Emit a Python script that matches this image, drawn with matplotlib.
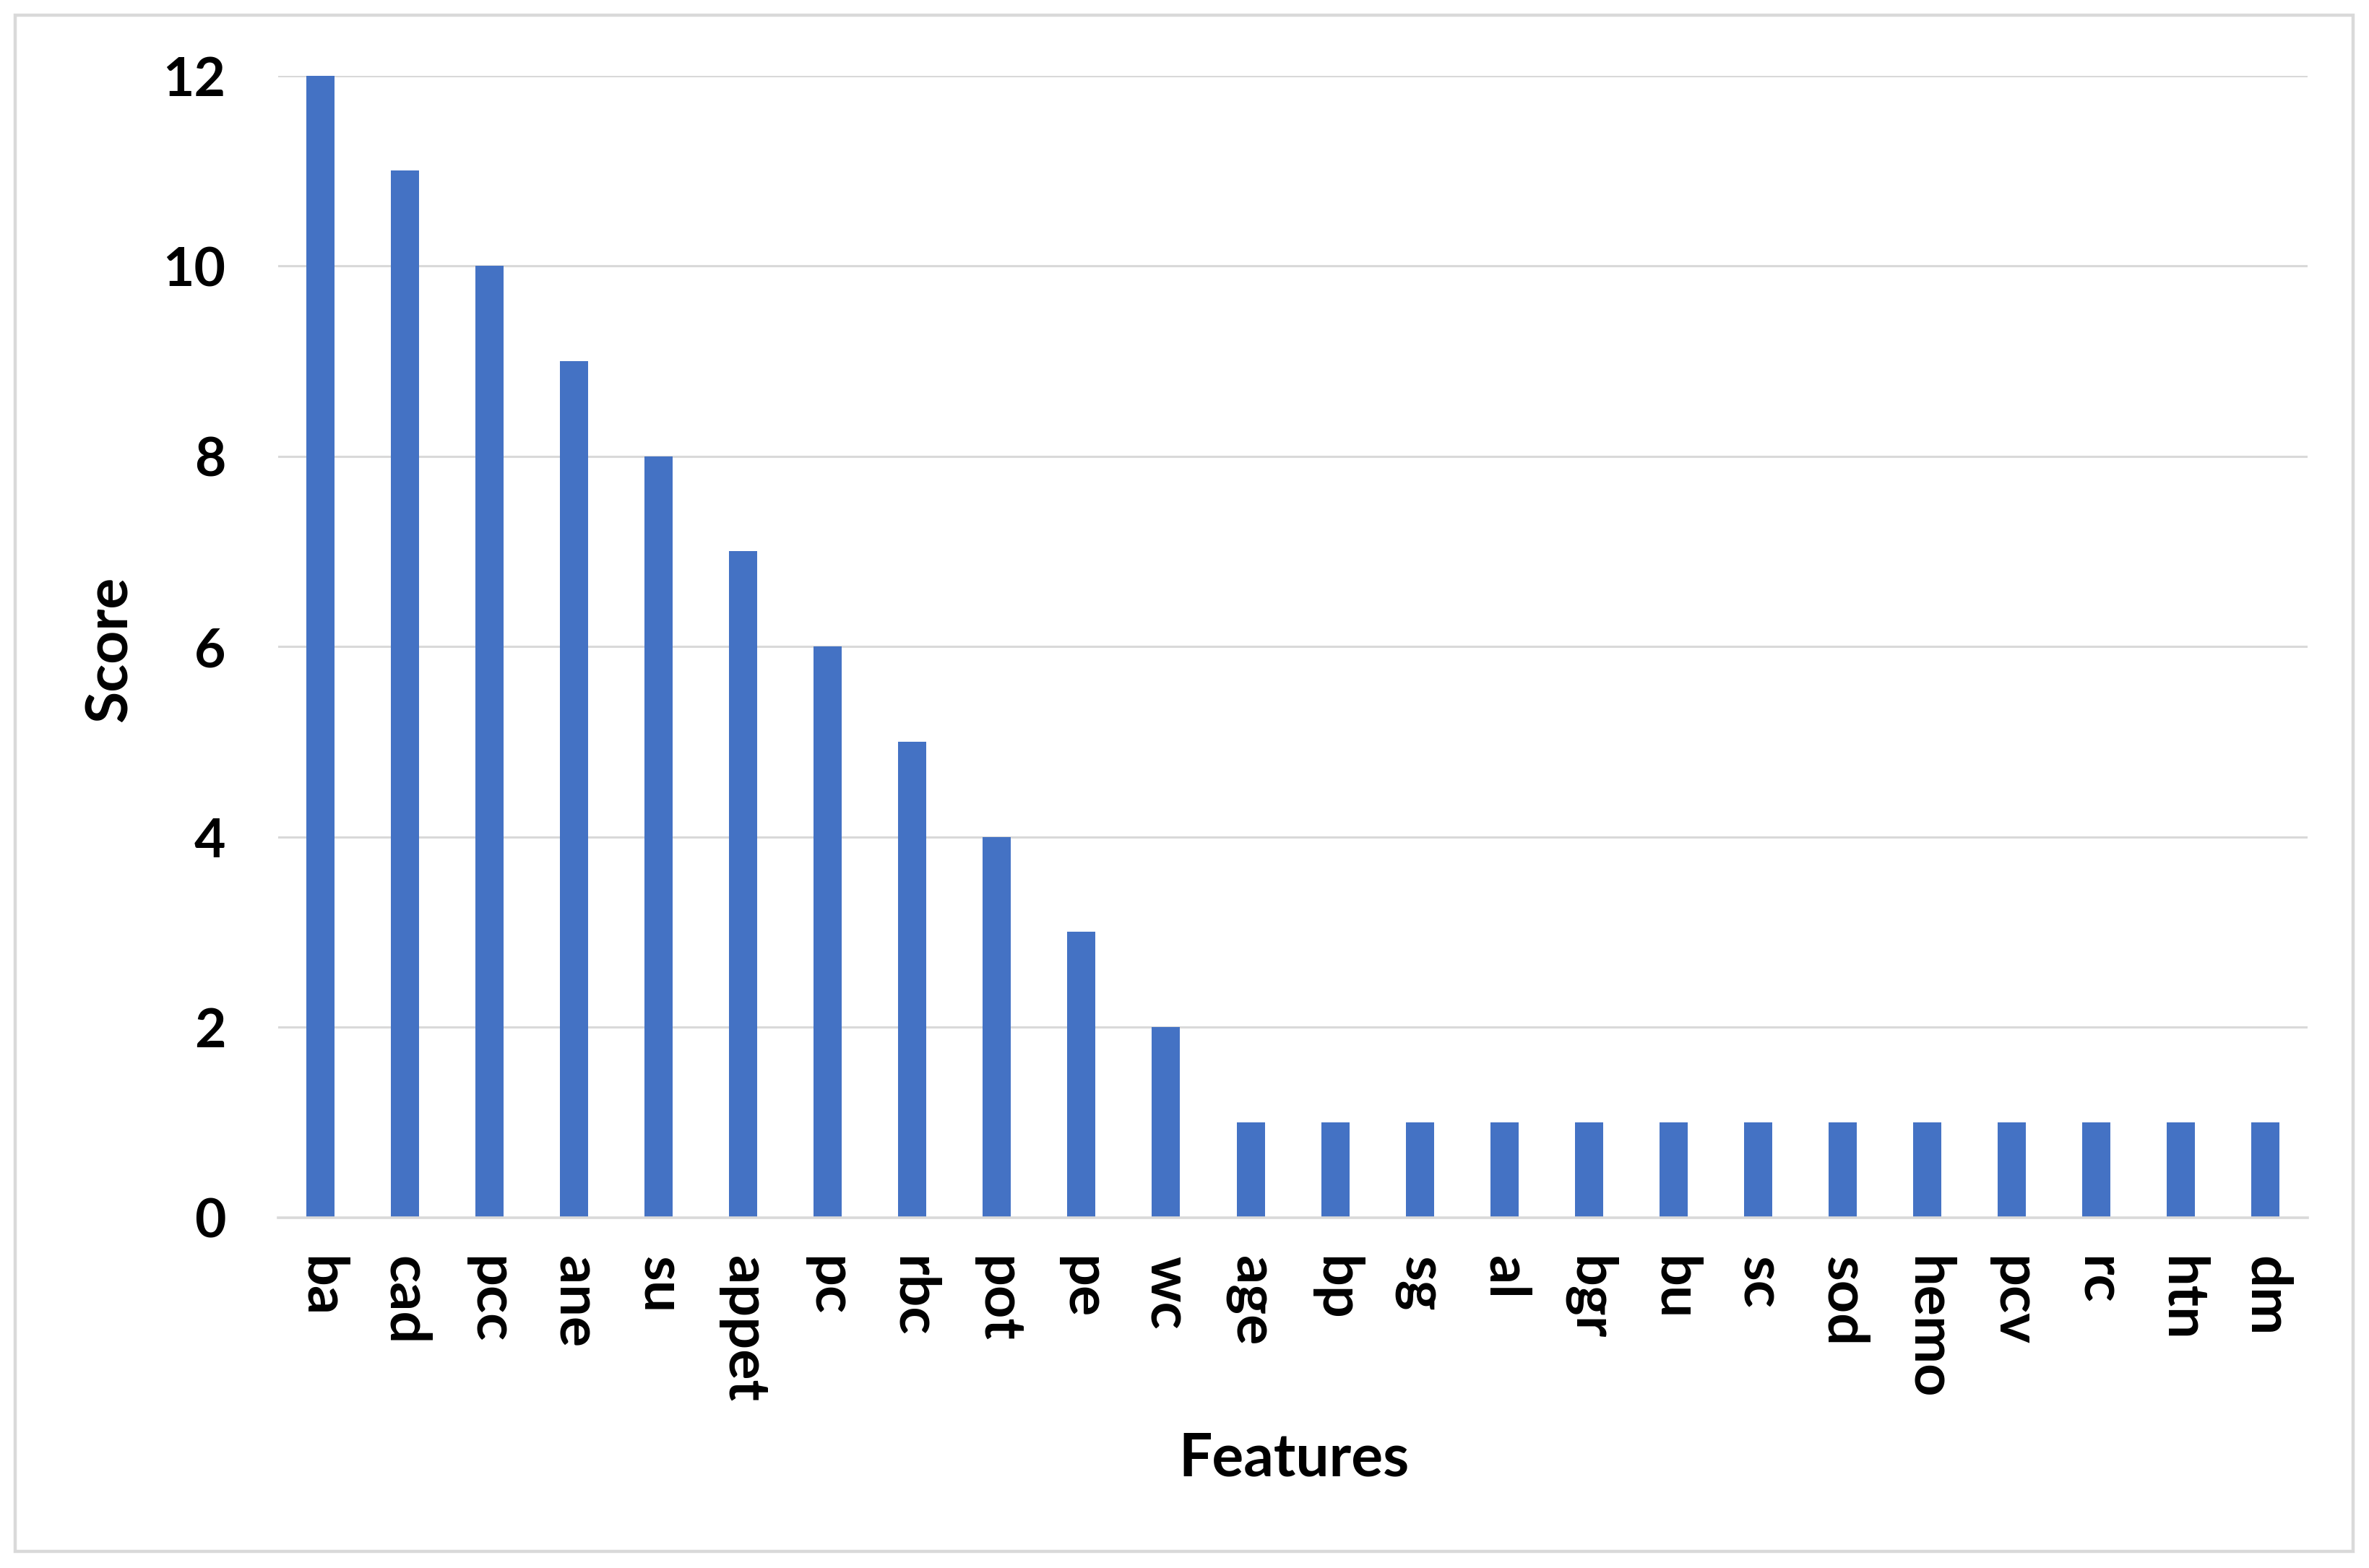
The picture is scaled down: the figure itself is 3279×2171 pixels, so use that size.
#!/usr/bin/env python3
# Feature score bar chart (Excel-style column chart) rebuilt in matplotlib.

import matplotlib
matplotlib.use('Agg')
import matplotlib.pyplot as plt
from matplotlib.patches import Rectangle

features = ['ba', 'cad', 'pcc', 'ane', 'su', 'appet', 'pc', 'rbc', 'pot', 'pe',
            'wc', 'age', 'bp', 'sg', 'al', 'bgr', 'bu', 'sc', 'sod', 'hemo',
            'pcv', 'rc', 'htn', 'dm']
scores = [12, 11, 10, 9, 8, 7, 6, 5, 4, 3,
          2, 1, 1, 1, 1, 1, 1, 1, 1, 1,
          1, 1, 1, 1]
y_ticks = [0, 2, 4, 6, 8, 10, 12]

BAR_COLOR = '#4472C4'
GRID_COLOR = '#d9d9d9'
plt.rcParams['font.family'] = ['Lato', 'DejaVu Sans']

fig = plt.figure(figsize=(16.4, 10.855), dpi=200)
ax = fig.add_axes([0.1173, 0.2235, 0.9739 - 0.1173, 0.9518 - 0.2235])

x = range(len(features))
ax.bar(x, scores, width=0.333, color=BAR_COLOR, zorder=3)

ax.set_xlim(-0.5, len(features) - 0.5)
ax.set_ylim(0, 12)
ax.set_yticks(y_ticks)
ax.set_yticklabels([str(t) for t in y_ticks], fontsize=27, fontweight='bold')
ax.set_xticks(list(x))
ax.set_xticklabels(features, rotation=270, fontsize=28.5, fontweight='bold',
                   va='top', ha='center')
ax.tick_params(axis='both', length=0)
ax.tick_params(axis='y', pad=26)
ax.tick_params(axis='x', pad=19)

ax.grid(True, axis='y', color=GRID_COLOR, linewidth=1.1, zorder=0)
for side in ('left', 'right', 'top'):
    ax.spines[side].set_visible(False)
ax.spines['bottom'].set_color(GRID_COLOR)
ax.spines['bottom'].set_linewidth(1.3)
ax.spines['bottom'].set_zorder(4)

fig.text(0.0466, 0.586, 'Score', rotation=90, fontsize=29, fontweight='bold',
         ha='center', va='center')
fig.text(0.546, 0.0694, 'Features', fontsize=29.5, fontweight='bold',
         ha='center', va='center')

# light grey chart-area frame
fig.patches.append(Rectangle((0.0064, 0.0106), 0.9866, 0.9798,
                             transform=fig.transFigure, fill=False,
                             edgecolor=GRID_COLOR, linewidth=1.6))

fig.savefig('out.png', dpi=200, facecolor='white')
